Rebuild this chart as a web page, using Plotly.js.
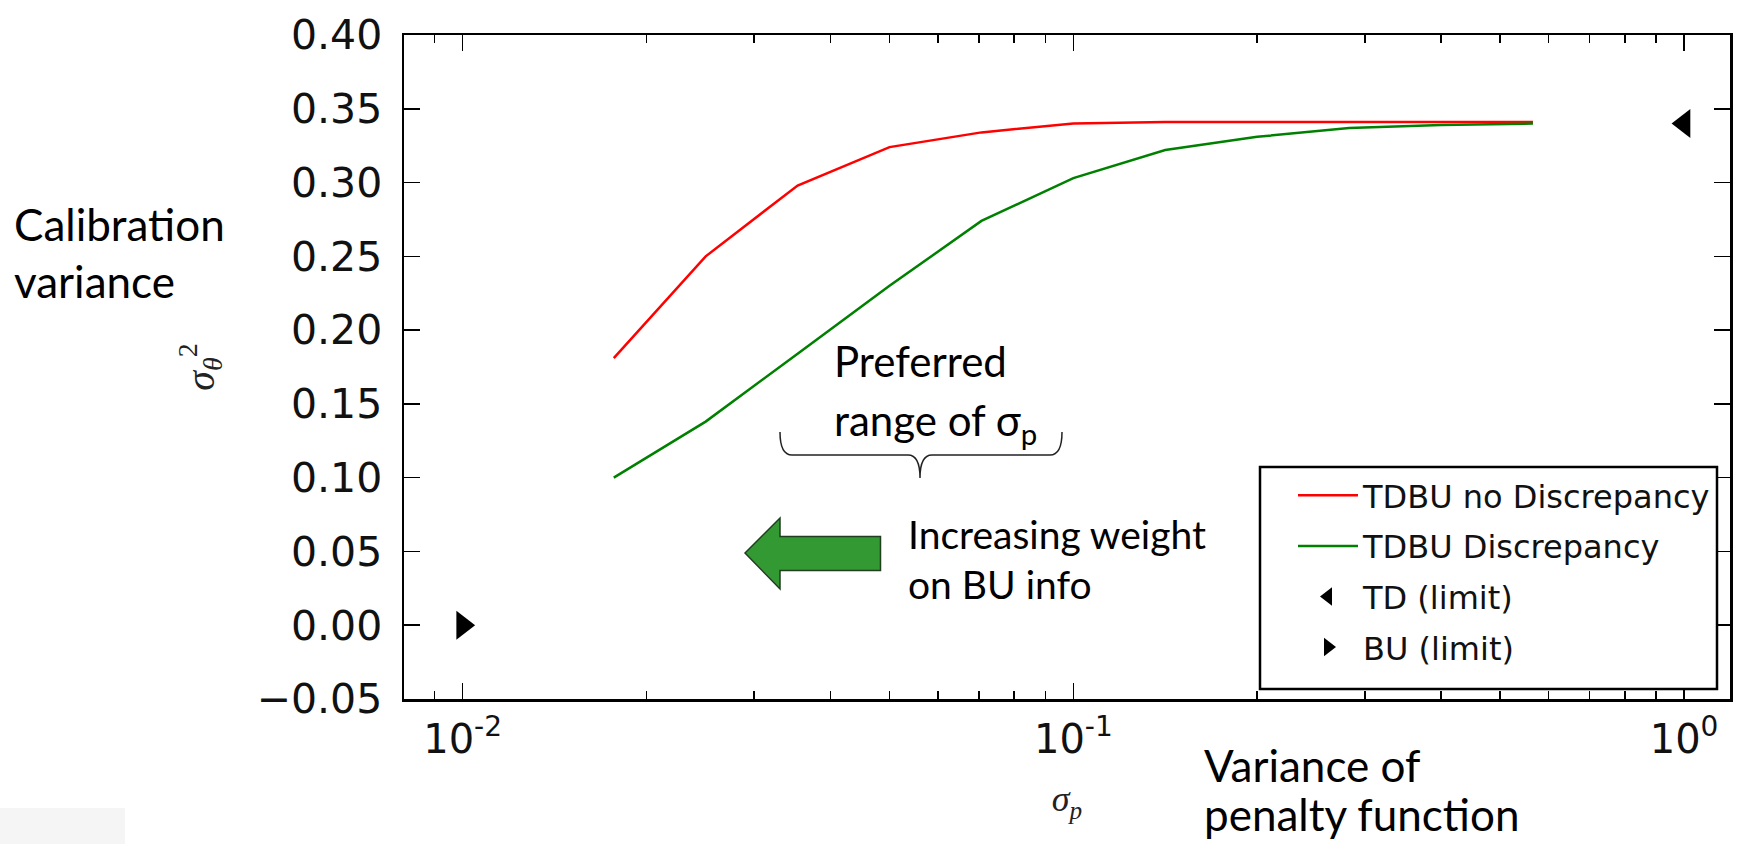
<!DOCTYPE html>
<html><head><meta charset="utf-8">
<script src="https://cdn.plot.ly/plotly-3.0.1.min.js"></script>
<style>html,body{margin:0;padding:0;background:#fff;} #chart{width:1738px;height:844px;}</style>
</head><body><div id="chart"></div>
<script>
// ---- data ----
const sigmaP = [0.01768, 0.025, 0.03536, 0.05, 0.07071, 0.1, 0.1414, 0.2, 0.2828, 0.4, 0.5657];
const tdbuNoDiscrepancy = [0.181, 0.250, 0.298, 0.324, 0.334, 0.340, 0.341, 0.341, 0.341, 0.341, 0.341];
const tdbuDiscrepancy = [0.100, 0.138, 0.184, 0.230, 0.274, 0.303, 0.322, 0.331, 0.337, 0.339, 0.340];
const tdLimitX = [1.0];
const tdLimitY = [0.34];
const buLimitX = [0.01];
const buLimitY = [0.0];
const seriesNames = ['TDBU no Discrepancy', 'TDBU Discrepancy', 'TD (limit)', 'BU (limit)'];
const xTickVals = [0.01, 0.1, 1];
const xTickText = ['10<sup>-2</sup>', '10<sup>-1</sup>', '10<sup>0</sup>'];
const xMinorVals = [0.009, 0.02, 0.03, 0.04, 0.05, 0.06, 0.07, 0.08, 0.09, 0.2, 0.3, 0.4, 0.5, 0.6, 0.7, 0.8, 0.9];
const yTickVals = [-0.05, 0.00, 0.05, 0.10, 0.15, 0.20, 0.25, 0.30, 0.35, 0.40];

// ---- geometry (pixels of the plot frame) ----
const L = 404, R = 1730, T = 35, B = 699, W = 1738, H = 844;
const PW = R - L, PH = B - T;
const px = x => (x - L) / PW;
const py = y => (B - y) / PH;
const pathOf = pts => pts.map((p, i) => (p[0] === 'Q' ? 'Q' + px(p[1]) + ',' + py(p[2]) + ' ' + px(p[3]) + ',' + py(p[4]) : (i === 0 ? 'M' : 'L') + px(p[0]) + ',' + py(p[1]))).join(' ');

const traces = [
  {x: sigmaP, y: tdbuNoDiscrepancy, name: seriesNames[0], mode: 'lines', line: {color: '#ff0000', width: 2.5}, legendgroup: 'a'},
  {x: sigmaP, y: tdbuDiscrepancy, name: seriesNames[1], mode: 'lines', line: {color: '#008000', width: 2.5}, legendgroup: 'b'},
  {x: tdLimitX, y: tdLimitY, name: seriesNames[2], mode: 'markers', marker: {symbol: 'triangle-left', size: 25, color: '#000'}, legendgroup: 'c'},
  {x: buLimitX, y: buLimitY, name: seriesNames[3], mode: 'markers', marker: {symbol: 'triangle-right', size: 25, color: '#000'}, legendgroup: 'd'}
];

const calibri = 'Lato, Carlito, "Open Sans", sans-serif';

const bracePath = pathOf([[780, 432], ['Q', 780, 455, 792, 455], [908, 455], ['Q', 920, 455, 920, 478], ['Q', 920, 455, 932, 455], [1050, 455], ['Q', 1062, 455, 1062, 432]]);
const arrowPath = pathOf([[745, 553], [780, 518], [780, 536.5], [880.5, 536.5], [880.5, 570.5], [780, 570.5], [780, 589]]) + ' Z';

const note = (x, y, text, size) => ({xref: 'paper', yref: 'paper', x: px(x), y: py(y), xanchor: 'left', yanchor: 'middle', align: 'left',
  showarrow: false, text: text, font: {family: calibri, size: size, color: '#000'}});

const layout = {
  width: W, height: H,
  margin: {l: L, r: W - R, t: T, b: H - B, pad: 0},
  paper_bgcolor: '#fff', plot_bgcolor: '#fff',
  showlegend: true,
  legend: {
    x: px(1293), y: py(468), xanchor: 'left', yanchor: 'top',
    bgcolor: 'rgba(0,0,0,0)', borderwidth: 0,
    font: {family: 'DejaVu Sans', size: 32, color: '#111'},
    traceorder: 'grouped', tracegroupgap: 6, itemwidth: 60
  },
  xaxis: {
    type: 'log', range: [Math.log10(0.008017), Math.log10(1.189)],
    showline: true, linecolor: '#000', linewidth: 2.5, mirror: 'allticks',
    ticks: 'inside', ticklen: 16, tickwidth: 1.5, tickcolor: '#000',
    tickvals: xTickVals, ticktext: xTickText, ticklabelstandoff: 3,
    tickfont: {family: 'DejaVu Sans', size: 40, color: '#111'},
    minor: {ticks: 'inside', ticklen: 8, tickwidth: 1.5, tickcolor: '#000', tickvals: xMinorVals, showgrid: false},
    showgrid: false, zeroline: false,
    title: {text: '<i>σ</i><sub><i>p</i></sub>', font: {family: 'Liberation Serif', size: 36, color: '#222'}, standoff: 26}
  },
  yaxis: {
    range: [-0.05, 0.40],
    showline: true, linecolor: '#000', linewidth: 2.5, mirror: 'allticks',
    ticks: 'inside', ticklen: 16, tickwidth: 1.5, tickcolor: '#000',
    tickvals: yTickVals, tickformat: '.2f', ticklabelstandoff: 11,
    tickfont: {family: 'DejaVu Sans', size: 41, color: '#111'},
    showgrid: false, zeroline: false,
    title: {text: '<i>σ</i><sub><i>θ</i></sub><sup>2</sup>', font: {family: 'Liberation Serif', size: 40, color: '#222'}, standoff: 30}
  },
  shapes: [
    {type: 'rect', xref: 'paper', yref: 'paper', x0: px(1260), x1: px(1717), y0: py(689), y1: py(467),
     fillcolor: '#fff', line: {color: '#000', width: 2.5}, layer: 'above'},
    {type: 'path', xref: 'paper', yref: 'paper', path: bracePath, line: {color: '#222', width: 1.5}},
    {type: 'path', xref: 'paper', yref: 'paper', path: arrowPath, fillcolor: '#339933', line: {color: '#1f3f1f', width: 1.5}},
    {type: 'rect', xref: 'paper', yref: 'paper', x0: px(0), x1: px(125), y0: py(844), y1: py(808),
     fillcolor: 'rgba(0,0,0,0.04)', line: {width: 0}, layer: 'below'}
  ],
  annotations: [
    note(12, 253, 'Calibration<br>variance', 44),
    note(832, 361, 'Preferred', 42),
    note(832, 423, 'range of σ<sub>p</sub>', 42),
    note(906, 534, 'Increasing weight', 39),
    note(906, 584, 'on BU info', 39),
    note(1202, 765, 'Variance of', 44),
    note(1202, 814, 'penalty function', 44)
  ]
};

Plotly.newPlot('chart', traces, layout, {displayModeBar: false, staticPlot: true});
</script>
</body></html>
